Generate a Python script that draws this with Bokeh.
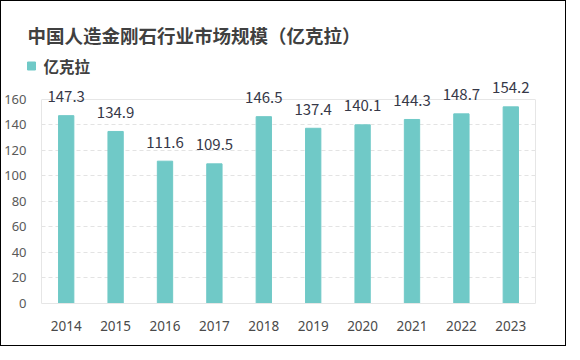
from bokeh.plotting import figure
from bokeh.layouts import column
from bokeh.models import (FactorRange, Range1d, FixedTicker, ColumnDataSource, Grid, LinearAxis)
from bokeh.core.properties import value
from bokeh.embed import file_html
from bokeh.resources import INLINE

years = ["2014", "2015", "2016", "2017", "2018", "2019", "2020", "2021", "2022", "2023"]
market = [147.3, 134.9, 111.6, 109.5, 146.5, 137.4, 140.1, 144.3, 148.7, 154.2]
yticks = [0, 20, 40, 60, 80, 100, 120, 140, 160]
title_text = "中国人造金刚石行业市场规模（亿克拉）"
series_name = "亿克拉"

BAR = "#70c9c7"
CJK = "Noto Sans CJK SC"
FRAME = "#e6e6e6"
TXT = "#404040"
W, HEAD_H, MAIN_H = 564, 74, 270

# ---- header (title + legend), a 1:1 pixel canvas ----
head = figure(width=W, height=HEAD_H, output_backend="svg", toolbar_location=None,
              x_range=Range1d(0, W), y_range=Range1d(HEAD_H, 0),
              x_axis_type=None, y_axis_type=None, min_border=0)
head.frame_align = False
head.outline_line_color = None
head.grid.grid_line_color = None
head.text(x=[26], y=[33.5], text=[title_text], text_baseline="middle",
          text_font=value(CJK), text_font_size="18.5px", text_font_style="bold", text_color=TXT)
head.rect(x=[30], y=[64.5], width=8, height=8, color=BAR)
head.text(x=[42], y=[64], text=[series_name], text_baseline="middle",
          text_font=value(CJK), text_font_size="15.5px", text_font_style="bold", text_color=TXT)

# ---- main chart ----
src = ColumnDataSource(dict(x=years, y=market, t=[f"{v:.1f}" for v in market]))

p = figure(width=W, height=MAIN_H, output_backend="svg", toolbar_location=None,
           x_range=FactorRange(*years, range_padding=0), y_range=Range1d(0, 178),
           min_border_left=40, min_border_right=30, min_border_top=1, min_border_bottom=42)
p.frame_align = False
p.outline_line_color = None

p.vbar(x="x", top="y", width=0.31, color=BAR, source=src)
p.text(x="x", y="y", text="t", source=src, text_align="center", text_baseline="middle",
       y_offset=-19, text_font=value(CJK), text_font_size="15px", text_color="#363848")

p.xgrid.grid_line_color = None
p.ygrid.ticker = FixedTicker(ticks=yticks[:-1])
p.ygrid.grid_line_color = "#e3e3e3"
p.ygrid.grid_line_dash = "4 3"
p.add_layout(Grid(dimension=1, ticker=FixedTicker(ticks=yticks[-1:]), grid_line_color=FRAME))

p.yaxis.ticker = FixedTicker(ticks=yticks)
p.yaxis.bounds = (yticks[0], yticks[-1])
p.yaxis.axis_line_color = FRAME
p.yaxis.major_tick_line_color = None
p.yaxis.minor_tick_line_color = None
p.yaxis.major_label_text_font = "Noto Sans"
p.yaxis.major_label_text_font_size = "13px"
p.yaxis.major_label_text_color = "#595959"
p.yaxis.major_label_standoff = 9

right = LinearAxis(ticker=FixedTicker(ticks=[]), bounds=(yticks[0], yticks[-1]),
                   axis_line_color=FRAME, major_tick_line_color=None,
                   minor_tick_line_color=None)
p.add_layout(right, "right")

p.xaxis.axis_line_color = FRAME
p.xaxis.major_tick_line_color = None
p.xaxis.minor_tick_line_color = None
p.xaxis.major_label_text_font = "Noto Sans"
p.xaxis.major_label_text_font_size = "13.5px"
p.xaxis.major_label_text_color = "#4a4a4a"
p.xaxis.major_label_standoff = 11

page = column(head, p, spacing=0, styles={"border": "1px solid #000"})

open("out.html", "w").write(file_html(page, INLINE))
